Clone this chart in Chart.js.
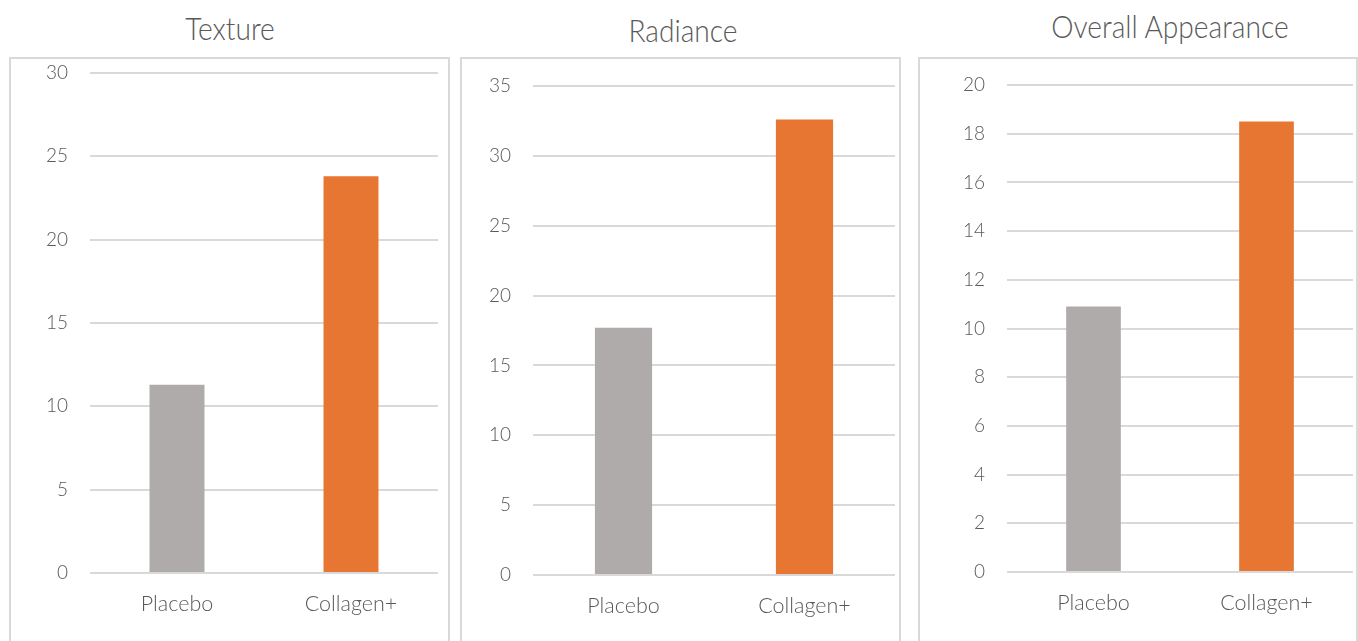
<!DOCTYPE html>
<html>
<head>
<meta charset="utf-8">
<script src="https://cdn.jsdelivr.net/npm/chart.js@4"></script>
<style>
  body { margin: 0; width: 1358px; height: 641px; overflow: hidden; background: #fff; font-family: Lato, sans-serif; }
  .title { position: absolute; font-weight: 300; font-size: 32px; color: #595959; white-space: nowrap;
           transform: translateX(-50%) scaleX(0.88); transform-origin: center; line-height: 1; }
  .box { position: absolute; top: 57px; height: 600px; box-sizing: border-box; border: 2px solid #d9d9d9; }
  .box canvas { display: block; }
</style>
</head>
<body>
<div class="title" style="left:230px; top:12px;">Texture</div>
<div class="title" style="left:683px; top:14px;">Radiance</div>
<div class="title" style="left:1170px; top:10px;">Overall Appearance</div>

<div class="box" style="left:9px; width:441px;"><canvas id="c1" width="437" height="596"></canvas></div>
<div class="box" style="left:460px; width:441px;"><canvas id="c2" width="437" height="596"></canvas></div>
<div class="box" style="left:918px; width:440px;"><canvas id="c3" width="436" height="596"></canvas></div>

<script>
const categories = ['Placebo', 'Collagen+'];
const texture = [11.3, 23.8];
const radiance = [17.7, 32.6];
const overall = [10.9, 18.5];
const yTicks1 = { max: 30, step: 5 };
const yTicks2 = { max: 35, step: 5 };
const yTicks3 = { max: 20, step: 2 };

const barColors = ['#afabaa', '#e67632'];
const textColor = '#595959';
const gridColor = '#d9d9d9';

function makePanel(id, values, yt, lay) {
  new Chart(document.getElementById(id), {
    type: 'bar',
    data: {
      labels: categories,
      datasets: [{
        data: values,
        backgroundColor: barColors,
        barPercentage: 0.316,
        categoryPercentage: 1
      }]
    },
    options: {
      responsive: false,
      animation: false,
      layout: { padding: { top: lay.top, right: lay.right, left: 0, bottom: 0 } },
      plugins: { legend: { display: false }, tooltip: { enabled: false } },
      scales: {
        x: {
          grid: { display: false },
          border: { display: false },
          ticks: { color: textColor, font: { family: 'Lato', size: 21.5, weight: 300 }, padding: 10 },
          afterFit: s => { s.height = lay.xh; s.paddingLeft = 0; s.paddingRight = 0; }
        },
        y: {
          min: 0,
          max: yt.max,
          grid: { color: gridColor, lineWidth: 2, drawTicks: false },
          border: { display: false },
          ticks: { stepSize: yt.step, color: textColor, font: { family: 'Lato', size: 19, weight: 300 }, padding: 22 },
          afterFit: s => { s.width = lay.yw; s.paddingTop = 0; s.paddingBottom = 0; }
        }
      }
    }
  });
}

makePanel('c1', texture, yTicks1, { top: 14, right: 10, yw: 79, xh: 82 });
makePanel('c2', radiance, yTicks2, { top: 27, right: 4, yw: 71, xh: 80 });
makePanel('c3', overall, yTicks3, { top: 26, right: 3, yw: 87, xh: 83 });
</script>
</body>
</html>
